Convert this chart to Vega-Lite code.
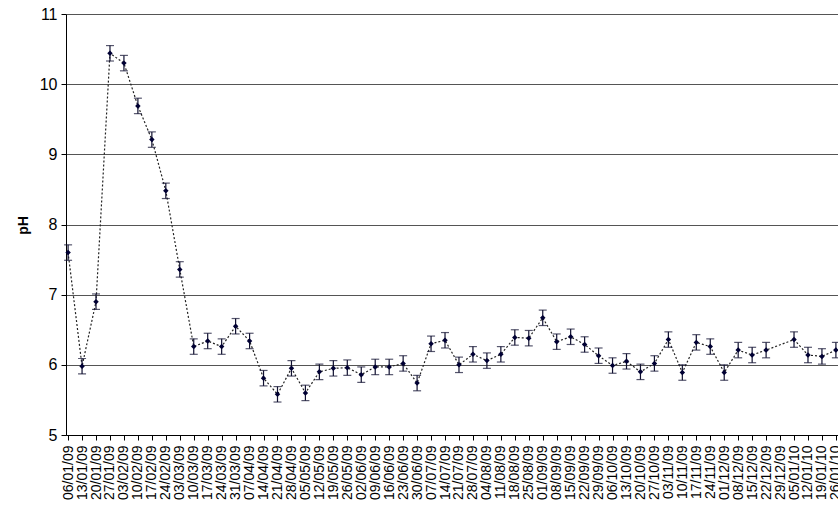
{
  "$schema": "https://vega.github.io/schema/vega-lite/v6.json",
  "autosize": {"type": "none"},
  "width": 772,
  "height": 421,
  "padding": {"left": 66, "top": 14, "right": 0, "bottom": 70},
  "background": "white",
  "config": {
    "view": {"stroke": null},
    "font": "Liberation Sans"
  },
  "data": {
    "values": [
      {"d": "06/01/09", "ph": 7.60, "e": 0.11},
      {"d": "13/01/09", "ph": 5.98, "e": 0.11},
      {"d": "20/01/09", "ph": 6.90, "e": 0.11},
      {"d": "27/01/09", "ph": 10.44, "e": 0.11},
      {"d": "03/02/09", "ph": 10.30, "e": 0.11},
      {"d": "10/02/09", "ph": 9.69, "e": 0.11},
      {"d": "17/02/09", "ph": 9.21, "e": 0.11},
      {"d": "24/02/09", "ph": 8.48, "e": 0.11},
      {"d": "03/03/09", "ph": 7.36, "e": 0.11},
      {"d": "10/03/09", "ph": 6.26, "e": 0.11},
      {"d": "17/03/09", "ph": 6.34, "e": 0.11},
      {"d": "24/03/09", "ph": 6.26, "e": 0.11},
      {"d": "31/03/09", "ph": 6.55, "e": 0.11},
      {"d": "07/04/09", "ph": 6.34, "e": 0.11},
      {"d": "14/04/09", "ph": 5.81, "e": 0.11},
      {"d": "21/04/09", "ph": 5.58, "e": 0.11},
      {"d": "28/04/09", "ph": 5.95, "e": 0.11},
      {"d": "05/05/09", "ph": 5.60, "e": 0.11},
      {"d": "12/05/09", "ph": 5.90, "e": 0.11},
      {"d": "19/05/09", "ph": 5.95, "e": 0.11},
      {"d": "26/05/09", "ph": 5.96, "e": 0.11},
      {"d": "02/06/09", "ph": 5.86, "e": 0.11},
      {"d": "09/06/09", "ph": 5.97, "e": 0.11},
      {"d": "16/06/09", "ph": 5.97, "e": 0.11},
      {"d": "23/06/09", "ph": 6.02, "e": 0.11},
      {"d": "30/06/09", "ph": 5.74, "e": 0.11},
      {"d": "07/07/09", "ph": 6.30, "e": 0.11},
      {"d": "14/07/09", "ph": 6.35, "e": 0.11},
      {"d": "21/07/09", "ph": 6.00, "e": 0.11},
      {"d": "28/07/09", "ph": 6.15, "e": 0.11},
      {"d": "04/08/09", "ph": 6.06, "e": 0.11},
      {"d": "11/08/09", "ph": 6.15, "e": 0.11},
      {"d": "18/08/09", "ph": 6.39, "e": 0.11},
      {"d": "25/08/09", "ph": 6.38, "e": 0.11},
      {"d": "01/09/09", "ph": 6.67, "e": 0.11},
      {"d": "08/09/09", "ph": 6.33, "e": 0.11},
      {"d": "15/09/09", "ph": 6.40, "e": 0.11},
      {"d": "22/09/09", "ph": 6.29, "e": 0.11},
      {"d": "29/09/09", "ph": 6.13, "e": 0.11},
      {"d": "06/10/09", "ph": 5.99, "e": 0.11},
      {"d": "13/10/09", "ph": 6.05, "e": 0.11},
      {"d": "20/10/09", "ph": 5.90, "e": 0.11},
      {"d": "27/10/09", "ph": 6.02, "e": 0.11},
      {"d": "03/11/09", "ph": 6.36, "e": 0.11},
      {"d": "10/11/09", "ph": 5.89, "e": 0.11},
      {"d": "17/11/09", "ph": 6.32, "e": 0.11},
      {"d": "24/11/09", "ph": 6.26, "e": 0.11},
      {"d": "01/12/09", "ph": 5.89, "e": 0.11},
      {"d": "08/12/09", "ph": 6.21, "e": 0.11},
      {"d": "15/12/09", "ph": 6.14, "e": 0.11},
      {"d": "22/12/09", "ph": 6.21, "e": 0.11},
      {"d": "05/01/10", "ph": 6.36, "e": 0.11},
      {"d": "12/01/10", "ph": 6.14, "e": 0.11},
      {"d": "19/01/10", "ph": 6.12, "e": 0.11},
      {"d": "26/01/10", "ph": 6.21, "e": 0.11}
    ]
  },
  "encoding": {
    "x": {
      "field": "d",
      "type": "ordinal",
      "sort": null,
      "scale": {
        "type": "point",
        "padding": 0.15,
        "domain": ["06/01/09","13/01/09","20/01/09","27/01/09","03/02/09","10/02/09","17/02/09","24/02/09","03/03/09","10/03/09","17/03/09","24/03/09","31/03/09","07/04/09","14/04/09","21/04/09","28/04/09","05/05/09","12/05/09","19/05/09","26/05/09","02/06/09","09/06/09","16/06/09","23/06/09","30/06/09","07/07/09","14/07/09","21/07/09","28/07/09","04/08/09","11/08/09","18/08/09","25/08/09","01/09/09","08/09/09","15/09/09","22/09/09","29/09/09","06/10/09","13/10/09","20/10/09","27/10/09","03/11/09","10/11/09","17/11/09","24/11/09","01/12/09","08/12/09","15/12/09","22/12/09","29/12/09","05/01/10","12/01/10","19/01/10","26/01/10"]
      },
      "axis": {
        "title": null,
        "labelAngle": -90,
        "labelFontSize": 14,
        "labelColor": "#000000",
        "labelOverlap": false,
        "labelBound": false,
        "labelPadding": 5,
        "tickSize": 5,
        "tickColor": "#000000",
        "domainColor": "#000000",
        "grid": false
      }
    },
    "y": {
      "field": "ph",
      "type": "quantitative",
      "scale": {"domain": [5, 11], "nice": false, "zero": false},
      "axis": {
        "title": "pH",
        "titleFontSize": 14,
        "titleFontWeight": "bold",
        "titleColor": "#000000",
        "titleX": -43,
        "titleY": 211,
        "titleAngle": -90,
        "titleAlign": "center",
        "titleBaseline": "middle",
        "values": [5, 6, 7, 8, 9, 10, 11],
        "format": "d",
        "labelFontSize": 16,
        "labelColor": "#000000",
        "labelPadding": 4,
        "tickSize": 5,
        "tickColor": "#000000",
        "domainColor": "#000000",
        "grid": true,
        "gridColor": "#555555",
        "gridWidth": 1.2
      }
    }
  },
  "layer": [
    {
      "mark": {"type": "line", "strokeDash": [2, 2], "strokeWidth": 1.2, "color": "#222222"},
      "encoding": {
        "order": {"value": null}
      }
    },
    {
      "mark": {
        "type": "errorbar",
        "color": "#101030",
        "ticks": {"size": 8, "thickness": 1.2, "color": "#101030"},
        "rule": {"strokeWidth": 1.2}
      },
      "encoding": {
        "yError": {"field": "e"}
      }
    },
    {
      "mark": {"type": "point", "shape": "diamond", "filled": true, "size": 30, "color": "#000033", "opacity": 1},
      "encoding": {}
    }
  ]
}
